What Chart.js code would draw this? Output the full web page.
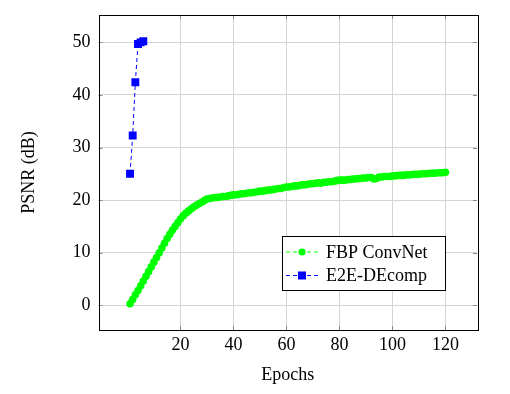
<!DOCTYPE html>
<html>
<head>
<meta charset="utf-8">
<script src="https://cdn.jsdelivr.net/npm/chart.js@4.4.0/dist/chart.umd.min.js"></script>
<style>
  html, body { margin: 0; padding: 0; background: #fff; }
  #wrap { width: 510px; height: 394px; }
</style>
</head>
<body>
<div id="wrap"><canvas id="psnrChart" width="510" height="394"></canvas></div>
<script>
// data
const fbpEpochs = [
  1, 2, 3, 4, 5, 6, 7, 8, 9, 10, 11, 12, 13, 14, 15, 16, 17, 18, 19, 20,
  21, 22, 23, 24, 25, 26, 27, 28, 29, 30, 31, 32, 33, 34, 35, 36, 37, 38, 39, 40,
  41, 42, 43, 44, 45, 46, 47, 48, 49, 50, 51, 52, 53, 54, 55, 56, 57, 58, 59, 60,
  61, 62, 63, 64, 65, 66, 67, 68, 69, 70, 71, 72, 73, 74, 75, 76, 77, 78, 79, 80,
  81, 82, 83, 84, 85, 86, 87, 88, 89, 90, 91, 92, 93, 94, 95, 96, 97, 98, 99, 100,
  101, 102, 103, 104, 105, 106, 107, 108, 109, 110, 111, 112, 113, 114, 115, 116, 117, 118, 119, 120
];
const fbpPsnr = [
  0.3, 1.1, 2.0, 2.8, 3.7, 4.6, 5.5, 6.4, 7.3, 8.2, 9.1, 10.0, 10.9, 11.8, 12.7, 13.5, 14.3, 15.0, 15.7, 16.4,
  17.0, 17.5, 17.9, 18.3, 18.7, 19.0, 19.3, 19.6, 19.9, 20.2, 20.3, 20.4, 20.5, 20.5, 20.6, 20.7, 20.7, 20.8, 20.9, 21.0,
  21.0, 21.1, 21.2, 21.2, 21.3, 21.4, 21.4, 21.5, 21.6, 21.7, 21.7, 21.8, 21.9, 21.9, 22.0, 22.1, 22.2, 22.2, 22.4, 22.5,
  22.5, 22.6, 22.7, 22.7, 22.8, 22.9, 22.9, 23.0, 23.1, 23.1, 23.2, 23.3, 23.2, 23.4, 23.4, 23.5, 23.5, 23.6, 23.7, 23.8,
  23.8, 23.8, 23.9, 23.9, 24.0, 24.0, 24.1, 24.1, 24.2, 24.2, 24.3, 24.3, 24.0, 24.1, 24.4, 24.4, 24.5, 24.5, 24.5, 24.6,
  24.6, 24.7, 24.7, 24.7, 24.8, 24.8, 24.8, 24.9, 24.9, 24.9, 25.0, 25.0, 25.0, 25.1, 25.1, 25.1, 25.2, 25.2, 25.2, 25.3
];
const e2eEpochs = [1, 2, 3, 4, 5, 6];
const e2ePsnr = [25.0, 32.3, 42.4, 49.7, 50.0, 50.2];

const seriesNames = ['FBP ConvNet', 'E2E-DEcomp'];
const xTicks = [20, 40, 60, 80, 100, 120];
const yTicks = [0, 10, 20, 30, 40, 50];

const serif = '"Liberation Serif", "DejaVu Serif", serif';

function toPoints(xs, ys) {
  return xs.map(function (x, i) { return { x: x, y: ys[i] }; });
}

// frame, inner tick marks and the boxed legend (pgfplots look)
const framePlugin = {
  id: 'frame',
  afterDraw: function (chart) {
    const ctx = chart.ctx;
    const a = chart.chartArea;
    const xs = chart.scales.x;
    const ys = chart.scales.y;
    ctx.save();

    // tick marks on all four sides
    ctx.strokeStyle = '#888';
    ctx.lineWidth = 1;
    ctx.beginPath();
    xTicks.forEach(function (v) {
      const px = Math.round(xs.getPixelForValue(v)) + 0.5;
      ctx.moveTo(px, a.bottom); ctx.lineTo(px, a.bottom - 4);
      ctx.moveTo(px, a.top); ctx.lineTo(px, a.top + 4);
    });
    yTicks.forEach(function (v) {
      const py = Math.round(ys.getPixelForValue(v)) + 0.5;
      ctx.moveTo(a.left, py); ctx.lineTo(a.left + 4, py);
      ctx.moveTo(a.right, py); ctx.lineTo(a.right - 4, py);
    });
    ctx.stroke();

    ctx.strokeStyle = '#000';
    ctx.strokeRect(Math.round(a.left) + 0.5, Math.round(a.top) + 0.5,
      Math.round(a.right - a.left), Math.round(a.bottom - a.top));

    // legend
    const box = { x: 282.5, y: 236.5, w: 163, h: 54 };
    ctx.fillStyle = '#fff';
    ctx.fillRect(box.x, box.y, box.w, box.h);
    ctx.strokeStyle = '#000';
    ctx.strokeRect(box.x, box.y, box.w, box.h);

    chart.data.datasets.forEach(function (ds, i) {
      const cy = 252 + i * 23.5;
      ctx.strokeStyle = ds.borderColor;
      ctx.lineWidth = 1;
      ctx.setLineDash(ds.borderDash);
      ctx.beginPath();
      ctx.moveTo(286, cy); ctx.lineTo(318, cy);
      ctx.stroke();
      ctx.setLineDash([]);
      ctx.fillStyle = ds.pointBackgroundColor;
      if (ds.pointStyle === 'rect') {
        ctx.fillRect(302 - 4, cy - 4, 8, 8);
      } else {
        ctx.beginPath();
        ctx.arc(302, cy, 3.6, 0, Math.PI * 2);
        ctx.fill();
      }
      ctx.fillStyle = '#000';
      ctx.font = '18px ' + serif;
      ctx.textBaseline = 'middle';
      ctx.textAlign = 'left';
      ctx.fillText(ds.label, 326, cy + 1);
    });
    ctx.restore();
  }
};

new Chart(document.getElementById('psnrChart'), {
  type: 'line',
  data: {
    datasets: [
      {
        label: seriesNames[0],
        data: toPoints(fbpEpochs, fbpPsnr),
        borderColor: '#00ff00',
        backgroundColor: '#00ff00',
        pointBackgroundColor: '#00ff00',
        pointBorderWidth: 0,
        pointRadius: 3.8,
        pointStyle: 'circle',
        borderWidth: 1,
        borderDash: [4, 3],
        tension: 0
      },
      {
        label: seriesNames[1],
        data: toPoints(e2eEpochs, e2ePsnr),
        borderColor: '#0000ff',
        backgroundColor: '#0000ff',
        pointBackgroundColor: '#0000ff',
        pointBorderWidth: 0,
        pointRadius: 5.6,
        pointStyle: 'rect',
        borderWidth: 1,
        borderDash: [4, 3],
        tension: 0
      }
    ]
  },
  options: {
    responsive: false,
    animation: false,
    layout: { padding: { top: 15, right: 33, left: 0, bottom: 0 } },
    plugins: {
      legend: { display: false },
      tooltip: { enabled: false }
    },
    scales: {
      x: {
        type: 'linear',
        min: -10.9,
        max: 131.9,
        afterBuildTicks: function (scale) {
          scale.ticks = xTicks.map(function (v) { return { value: v }; });
        },
        afterFit: function (scale) {
          scale.height = 64;
          scale.paddingLeft = 0;
          scale.paddingRight = 0;
        },
        grid: { color: '#d4d4d4', drawTicks: false },
        border: { display: false },
        ticks: {
          padding: 4,
          color: '#000',
          font: { family: serif, size: 18 },
          maxRotation: 0
        },
        title: {
          display: true,
          text: 'Epochs',
          color: '#000',
          font: { family: serif, size: 18 },
          padding: { top: 0, bottom: 8 }
        }
      },
      y: {
        type: 'linear',
        min: -4.7,
        max: 55.2,
        afterBuildTicks: function (scale) {
          scale.ticks = yTicks.map(function (v) { return { value: v }; });
        },
        afterFit: function (scale) {
          scale.width = 98.5;
          scale.paddingTop = 0;
          scale.paddingBottom = 0;
        },
        grid: { color: '#d4d4d4', drawTicks: false },
        border: { display: false },
        ticks: {
          padding: 8,
          color: '#000',
          font: { family: serif, size: 18 }
        },
        title: {
          display: true,
          text: 'PSNR (dB)',
          color: '#000',
          font: { family: serif, size: 18 },
          padding: { top: 18, bottom: 0 }
        }
      }
    }
  },
  plugins: [framePlugin]
});
</script>
</body>
</html>
